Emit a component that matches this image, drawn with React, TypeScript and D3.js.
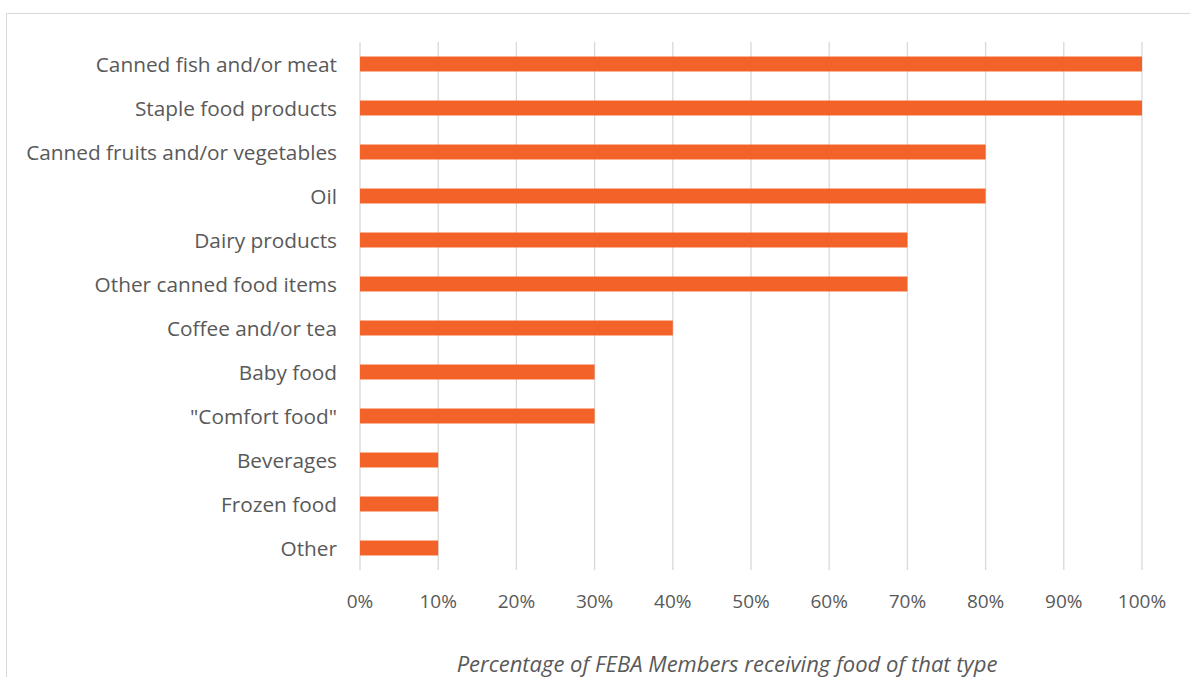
import React from "react";
import * as d3 from "d3";

const categories = [
  "Canned fish and/or meat",
  "Staple food products",
  "Canned fruits and/or vegetables",
  "Oil",
  "Dairy products",
  "Other canned food items",
  "Coffee and/or tea",
  "Baby food",
  "\"Comfort food\"",
  "Beverages",
  "Frozen food",
  "Other",
];
const values = [100, 100, 80, 80, 70, 70, 40, 30, 30, 10, 10, 10];
const ticks = [0, 10, 20, 30, 40, 50, 60, 70, 80, 90, 100];
const axisTitle = "Percentage of FEBA Members receiving food of that type";

export default function App() {
  const W = 1190, H = 677;
  const x = d3.scaleLinear().domain([0, 100]).range([360, 1142]);
  const y = d3.scaleBand().domain(categories).range([42, 570]).paddingInner(0.66).paddingOuter(0.33);
  const font = "'Open Sans', sans-serif";
  return (
    <svg width={W} height={H} style={{ position: "absolute", left: 0, top: 0 }}>
      <rect x={0} y={0} width={W} height={H} fill="#fff" />
      <rect x={6.5} y={13.5} width={1200} height={700} fill="none" stroke="#d9d9d9" strokeWidth={1} />
      {ticks.map((t) => (
        <line key={t} x1={x(t)} x2={x(t)} y1={42} y2={570} stroke="#d9d9d9" strokeWidth={1.3} />
      ))}
      {categories.map((c, i) => (
        <rect key={c} x={x(0)} y={y(c)!} width={x(values[i]) - x(0)} height={y.bandwidth()} fill="#F26229" />
      ))}
      {categories.map((c) => (
        <text key={c} x={337} y={y(c)! + y.bandwidth() / 2} textAnchor="end" dominantBaseline="central"
          fontFamily={font} fontSize={20.8} fill="#595959">{c}</text>
      ))}
      {ticks.map((t) => (
        <text key={t} x={x(t)} y={601} textAnchor="middle" dominantBaseline="central"
          fontFamily={font} fontSize={19} fill="#595959">{t + "%"}</text>
      ))}
      <text x={727} y={663} textAnchor="middle" dominantBaseline="central" fontFamily={font}
        fontStyle="italic" fontSize={22} fill="#595959">{axisTitle}</text>
    </svg>
  );
}
